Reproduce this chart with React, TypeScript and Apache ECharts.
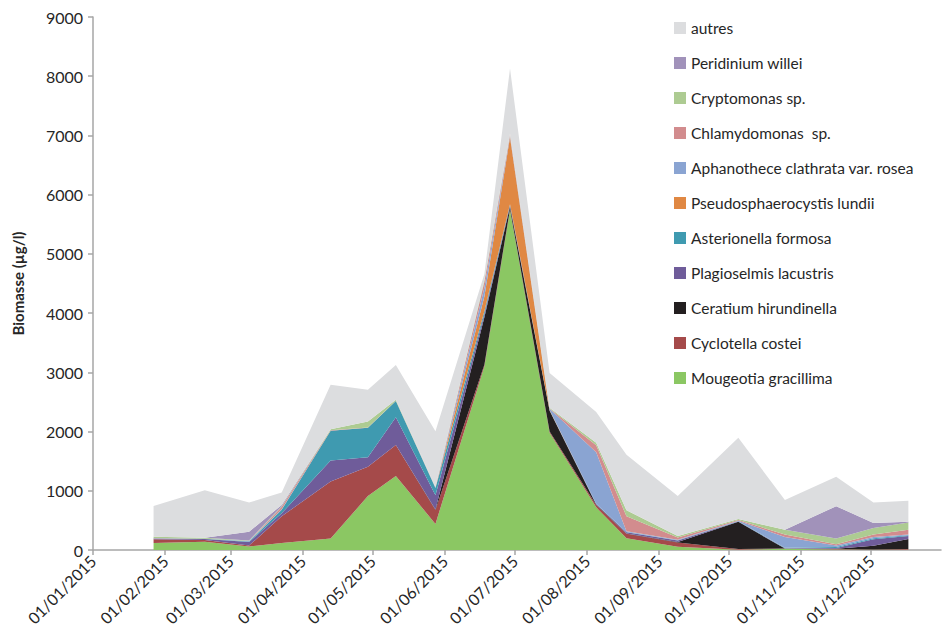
import React, { useEffect, useRef } from "react";
import * as echarts from "echarts";

const dates = [
  "2015-01-27", "2015-02-18", "2015-03-09", "2015-03-23", "2015-04-13", "2015-04-29",
  "2015-05-11", "2015-05-28", "2015-06-18", "2015-06-29", "2015-07-16", "2015-08-05",
  "2015-08-18", "2015-09-09", "2015-10-05", "2015-10-25", "2015-11-16", "2015-12-02", "2015-12-17",
];

const mougeotia = [120, 140, 60, 120, 195, 910, 1250, 440, 3100, 5740, 1980, 720, 200, 55, 5, 20, 10, 5, 5];
const cyclotella = [60, 30, 15, 450, 960, 495, 525, 235, 30, 20, 20, 40, 75, 70, 10, 5, 5, 5, 10];
const ceratium = [0, 0, 0, 0, 0, 0, 0, 10, 800, 40, 350, 10, 5, 10, 460, 0, 5, 60, 170];
const plagioselmis = [8, 15, 60, 50, 355, 160, 465, 240, 50, 20, 5, 5, 20, 25, 5, 5, 15, 110, 50];
const asterionella = [5, 5, 10, 60, 505, 500, 275, 120, 50, 20, 5, 5, 5, 5, 5, 10, 15, 20, 15];
const pseudosphaerocystis = [0, 0, 0, 0, 0, 0, 0, 0, 250, 1130, 10, 0, 0, 0, 0, 0, 0, 0, 0];
const aphanothece = [5, 0, 5, 10, 0, 0, 0, 10, 150, 20, 15, 870, 10, 10, 10, 180, 25, 20, 10];
const chlamydomonas = [5, 0, 0, 40, 5, 5, 5, 5, 100, 30, 5, 120, 255, 35, 10, 40, 20, 40, 80];
const cryptomonas = [20, 15, 10, 10, 20, 100, 15, 5, 30, 10, 10, 40, 100, 25, 20, 80, 100, 110, 125];
const peridinium = [0, 0, 150, 20, 0, 0, 0, 0, 0, 0, 0, 0, 0, 0, 0, 0, 545, 85, 10];
const autres = [520, 805, 490, 210, 750, 535, 590, 940, 100, 1100, 590, 520, 940, 675, 1370, 505, 495, 345, 355];

const seriesNames = [
  "Mougeotia gracillima",
  "Cyclotella costei",
  "Ceratium hirundinella",
  "Plagioselmis lacustris",
  "Asterionella formosa",
  "Pseudosphaerocystis lundii",
  "Aphanothece clathrata var. rosea",
  "Chlamydomonas  sp.",
  "Cryptomonas sp.",
  "Peridinium willei",
  "autres",
];
const seriesValues = [
  mougeotia, cyclotella, ceratium, plagioselmis, asterionella, pseudosphaerocystis,
  aphanothece, chlamydomonas, cryptomonas, peridinium, autres,
];
const seriesColors = [
  "#8BC763", "#A54A4A", "#231F20", "#6F5C9A", "#3F9AB0", "#E08843",
  "#8AA4D2", "#D28C8E", "#ADCB92", "#A192BA", "#DCDDDF",
];

const yTicks = { min: 0, max: 9000, interval: 1000 };
const xRange = { min: "2015-01-01", max: "2015-12-31" };

function toTime(s: string): number {
  const [y, m, d] = s.split("-").map(Number);
  return new Date(y, m - 1, d).getTime();
}

const FONT = "Lato, 'Open Sans', sans-serif";
const TEXT = "#262626";
const AXIS = "#A6A6A6";

export default function App() {
  const ref = useRef<HTMLDivElement>(null);
  useEffect(() => {
    document.body.style.margin = "0";
    const chart = echarts.init(ref.current!, null, { renderer: "svg" });
    const series = seriesNames.map((name, i) => ({
      name,
      type: "line",
      stack: "total",
      symbol: "none",
      lineStyle: { width: 0 },
      areaStyle: { color: seriesColors[i], opacity: 1 },
      itemStyle: { color: seriesColors[i] },
      data: dates.map((d, j) => [toTime(d), seriesValues[i][j]]),
    }));
    chart.setOption({
      animation: false,
      textStyle: { fontFamily: FONT },
      grid: { left: 93, right: 11, top: 17, bottom: 94, containLabel: false },
      legend: {
        orient: "vertical",
        left: 669,
        top: 15,
        itemWidth: 12,
        itemHeight: 12,
        itemGap: 19,
        icon: "rect",
        data: seriesNames.slice().reverse(),
        textStyle: { fontSize: 15.5, color: TEXT, fontFamily: FONT, lineHeight: 16 },
      },
      xAxis: {
        type: "time",
        min: toTime(xRange.min),
        max: toTime(xRange.max),
        splitNumber: 12,
        axisLine: { show: true, lineStyle: { color: AXIS, width: 1.5 } },
        axisTick: { show: true, length: 5, lineStyle: { color: AXIS, width: 1.5 } },
        splitLine: { show: false },
        axisLabel: {
          rotate: 45,
          fontSize: 16,
          color: TEXT,
          fontFamily: FONT,
          margin: 8,
          formatter: "{dd}/{MM}/{yyyy}",
          showMinLabel: true,
          showMaxLabel: false,
          hideOverlap: false,
        },
      },
      yAxis: {
        type: "value",
        min: yTicks.min,
        max: yTicks.max,
        interval: yTicks.interval,
        name: "Biomasse (µg/l)",
        nameLocation: "middle",
        nameRotate: 90,
        nameGap: 68,
        nameTextStyle: { fontSize: 15, fontWeight: "bold", color: TEXT, fontFamily: FONT },
        axisLine: { show: true, lineStyle: { color: AXIS, width: 1.5 } },
        axisTick: { show: true, length: 5, lineStyle: { color: AXIS, width: 1.5 } },
        splitLine: { show: false },
        axisLabel: {
          fontSize: 16,
          color: TEXT,
          fontFamily: FONT,
          margin: 10,
          formatter: (v: number) => String(v),
        },
      },
      series,
    });
    return () => chart.dispose();
  }, []);
  return <div ref={ref} style={{ width: 952, height: 644 }} />;
}
